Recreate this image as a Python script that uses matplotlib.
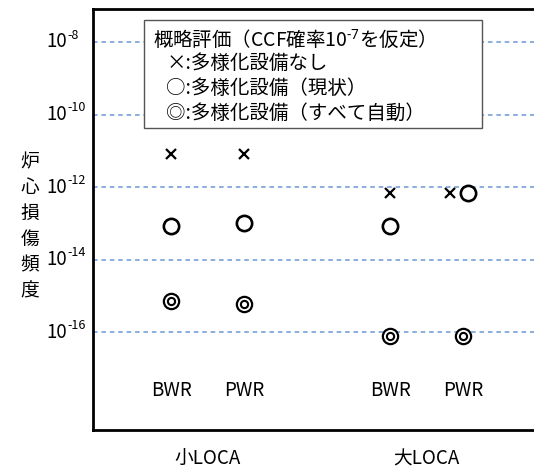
import matplotlib
matplotlib.use("Agg")
import matplotlib.pyplot as plt
from matplotlib.patches import Rectangle

plt.rcParams['font.family'] = ['Noto Sans CJK JP', 'DejaVu Sans']
plt.rcParams['mathtext.fontset'] = 'custom'
plt.rcParams['mathtext.rm'] = 'Noto Sans'
plt.rcParams['mathtext.it'] = 'Noto Sans:italic'

# data
reactors = ["BWR", "PWR", "BWR", "PWR"]
groups = ["小LOCA", "大LOCA"]
x_pos = [1, 2, 4, 5]
cdf_none = [8e-12, 8e-12, 7e-13, 7e-13]       # × 多様化設備なし
cdf_current = [8.3e-14, 1e-13, 8.3e-14, 7e-13]  # ○ 現状
cdf_auto = [7.2e-16, 5.9e-16, 7.8e-17, 7.8e-17]  # ◎ すべて自動
yticks = [1e-8, 1e-10, 1e-12, 1e-14, 1e-16]
ytick_exps = ["-8", "-10", "-12", "-14", "-16"]
legend_title = r"概略評価（CCF確率10$^{\text{-}7}$を仮定）"
legend_items = ["×:多様化設備なし", "○:多様化設備（現状）", "◎:多様化設備（すべて自動）"]

fs = 13.5
fig = plt.figure(figsize=(5.34, 4.69), dpi=100)
ax = fig.add_axes([93 / 534, 1 - 430 / 469, 441 / 534, 421 / 469])
ax.set_yscale("log")
ax.set_ylim(10 ** -18.7, 10 ** -7.09)
ax.set_xlim(-0.07, 5.97)

for t in yticks:
    ax.axhline(t, color="#6b98d4", lw=1.1, ls=(0, (3, 2.5)), zorder=1)

# small offsets so the overlapping large-LOCA PWR marks stay visible
x_none = [x + (-0.18 if i == 3 else 0) for i, x in enumerate(x_pos)]
x_cur = [x + (0.06 if i == 3 else 0) for i, x in enumerate(x_pos)]

ax.plot(x_none, cdf_none, ls="none", marker="x", ms=7, mew=1.6, color="black", zorder=3)
ax.plot(x_cur, cdf_current, ls="none", marker="o", ms=11, mew=1.9,
        mfc="white", mec="black", zorder=3)
ax.plot(x_pos, cdf_auto, ls="none", marker="o", ms=11, mew=1.6,
        mfc="white", mec="black", zorder=3)
ax.plot(x_pos, cdf_auto, ls="none", marker="o", ms=5.2, mew=1.5,
        mfc="white", mec="black", zorder=4)

# y tick labels: "10" plus a small raised exponent
ax.set_yticks([])
ax.yaxis.set_minor_locator(matplotlib.ticker.NullLocator())
ytrans = ax.get_yaxis_transform()
for t, e in zip(yticks, ytick_exps):
    ax.text(-0.059, t, "10", transform=ytrans, ha="right", va="center",
            fontsize=fs, clip_on=False)
    ax.annotate(e, xy=(-0.058, t), xycoords=ytrans, xytext=(0, 5),
                textcoords="offset points", ha="left", va="center",
                fontsize=9, annotation_clip=False)
ax.set_xticks([])

for s in ["left", "top", "bottom"]:
    ax.spines[s].set_linewidth(2)
ax.spines["right"].set_visible(False)

for x, name in zip(x_pos, reactors):
    ax.text(x, 0.095, name, transform=ax.get_xaxis_transform(),
            ha="center", va="center", fontsize=fs)

ax.text(1.5, -0.071, groups[0], transform=ax.get_xaxis_transform(),
        ha="center", va="center", fontsize=fs, clip_on=False)
ax.text(4.5, -0.07, groups[1], transform=ax.get_xaxis_transform(),
        ha="center", va="center", fontsize=fs, clip_on=False)

# legend box
ax.add_patch(Rectangle((0.1156, 0.717), 0.766, 0.257, transform=ax.transAxes,
                       facecolor="white", edgecolor="#555555", lw=1, zorder=5))
ax.text(0.136, 0.926, legend_title, transform=ax.transAxes,
        ha="left", va="center", fontsize=14, zorder=6)
for i, item in enumerate(legend_items):
    ax.text(0.166, 0.870 - i * 0.0595, item, transform=ax.transAxes,
            ha="left", va="center", fontsize=14, zorder=6)

fig.text(30 / 534, 1 - 226 / 469, "炉\n心\n損\n傷\n頻\n度", ha="center", va="center",
         fontsize=fs, linespacing=1.3)

fig.savefig("out.png", dpi=100)
